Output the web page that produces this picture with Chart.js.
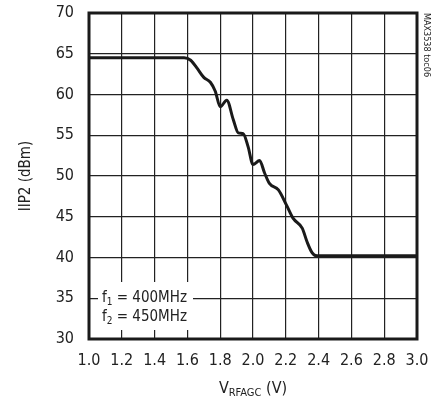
<!DOCTYPE html>
<html>
<head>
<meta charset="utf-8">
<script src="https://cdn.jsdelivr.net/npm/chart.js@4/dist/chart.umd.min.js"></script>
<style>
  html, body { margin: 0; padding: 0; background: #fff; }
  #wrap { width: 435px; height: 403px; }
</style>
</head>
<body>
<div id="wrap"><canvas id="grafico" width="435" height="403"></canvas></div>
<script>
// IIP2 vs RF AGC control voltage
const vrfagc = [1.0, 1.1, 1.2, 1.3, 1.4, 1.5, 1.58, 1.62, 1.66, 1.70, 1.74, 1.77, 1.80, 1.84,
  1.88, 1.91, 1.94, 1.97, 2.00, 2.04, 2.07, 2.10, 2.155, 2.205, 2.245, 2.30,
  2.33, 2.36, 2.39, 2.45, 2.6, 2.8, 3.0];
const iip2 = [64.5, 64.5, 64.5, 64.5, 64.5, 64.5, 64.5, 64.2, 63.2, 62.1, 61.5, 60.4, 58.5, 59.3,
  56.9, 55.3, 55.2, 53.6, 51.4, 51.9, 50.4, 49.1, 48.3, 46.4, 44.8, 43.6,
  41.9, 40.6, 40.2, 40.2, 40.2, 40.2, 40.2];

const xTicks = [1.0, 1.2, 1.4, 1.6, 1.8, 2.0, 2.2, 2.4, 2.6, 2.8, 3.0];
const yTicks = [30, 35, 40, 45, 50, 55, 60, 65, 70];
const condicoes = ['f1 = 400MHz', 'f2 = 450MHz'];

const FONTE = '"DejaVu Sans Condensed", "Liberation Sans Narrow", "Liberation Sans", sans-serif';

// sem folga extra dos rótulos, a área do gráfico fica só com o padding do layout
function semFolga(s) {
  s.paddingTop = 0; s.paddingBottom = 0; s.paddingLeft = 0; s.paddingRight = 0;
}

// moldura, textos dos eixos e caixa de condições
const extras = {
  id: 'extras',
  afterDraw(chart) {
    const { ctx, chartArea: a } = chart;
    ctx.save();

    // caixa branca com as frequências
    ctx.fillStyle = '#fff';
    ctx.fillRect(98, 282, 95, 48);
    ctx.fillStyle = '#222';
    ctx.textBaseline = 'middle';
    ctx.textAlign = 'left';
    condicoes.forEach((txt, i) => {
      const y = 298 + i * 19;
      let x = 102;
      ctx.font = '15px ' + FONTE;
      ctx.fillText(txt[0], x, y);
      x += ctx.measureText(txt[0]).width;
      ctx.font = '10px ' + FONTE;
      ctx.fillText(txt[1], x, y + 4);
      x += ctx.measureText(txt[1]).width;
      ctx.font = '15px ' + FONTE;
      ctx.fillText(txt.slice(2), x, y);
    });

    // moldura
    ctx.strokeStyle = '#1a1a1a';
    ctx.lineWidth = 3;
    ctx.strokeRect(a.left, a.top, a.right - a.left, a.bottom - a.top);

    // título eixo y
    ctx.font = '15px ' + FONTE;
    ctx.textAlign = 'center';
    ctx.translate(26, (a.top + a.bottom) / 2);
    ctx.rotate(-Math.PI / 2);
    ctx.fillText('IIP2 (dBm)', 0, 0);
    ctx.setTransform(1, 0, 0, 1, 0, 0);

    // título eixo x com subscrito
    const partes = [['V', 16, 0], ['RFAGC', 11, 4], [' (V)', 16, 0]];
    let total = 0;
    partes.forEach(p => { ctx.font = p[1] + 'px ' + FONTE; total += ctx.measureText(p[0]).width; });
    let x = (a.left + a.right) / 2 - total / 2;
    ctx.textAlign = 'left';
    partes.forEach(p => {
      ctx.font = p[1] + 'px ' + FONTE;
      ctx.fillText(p[0], x, 389 + p[2]);
      x += ctx.measureText(p[0]).width;
    });

    // código da figura
    ctx.font = '9px ' + FONTE;
    ctx.translate(426, 45);
    ctx.rotate(Math.PI / 2);
    ctx.textAlign = 'center';
    ctx.fillText('MAX3538 toc06', 0, 0);
    ctx.restore();
  }
};

const pontos = vrfagc.map((v, i) => ({ x: v, y: iip2[i] }));

new Chart(document.getElementById('grafico'), {
  type: 'line',
  data: {
    datasets: [{
      data: pontos,
      borderColor: '#1a1a1a',
      borderWidth: 3,
      pointRadius: 0,
      cubicInterpolationMode: 'monotone',
      fill: false
    }]
  },
  options: {
    responsive: false,
    animation: false,
    layout: { padding: { top: 13, right: 18, left: 0, bottom: 0 } },
    plugins: { legend: { display: false }, tooltip: { enabled: false } },
    scales: {
      x: {
        type: 'linear',
        min: 1, max: 3,
        afterBuildTicks: s => { s.ticks = xTicks.map(v => ({ value: v })); },
        afterFit: s => { s.height = 64; semFolga(s); },
        ticks: {
          callback: v => v.toFixed(1),
          color: '#222',
          font: { family: FONTE, size: 16 },
          padding: 12,
          maxRotation: 0
        },
        grid: { color: '#222', lineWidth: 1.2, drawTicks: false },
        border: { display: false }
      },
      y: {
        min: 30, max: 70,
        afterBuildTicks: s => { s.ticks = yTicks.map(v => ({ value: v })); },
        afterFit: s => { s.width = 89; semFolga(s); },
        ticks: {
          color: '#222',
          font: { family: FONTE, size: 16 },
          padding: 15
        },
        grid: { color: '#222', lineWidth: 1.2, drawTicks: false },
        border: { display: false }
      }
    }
  },
  plugins: [extras]
});
</script>
</body>
</html>
